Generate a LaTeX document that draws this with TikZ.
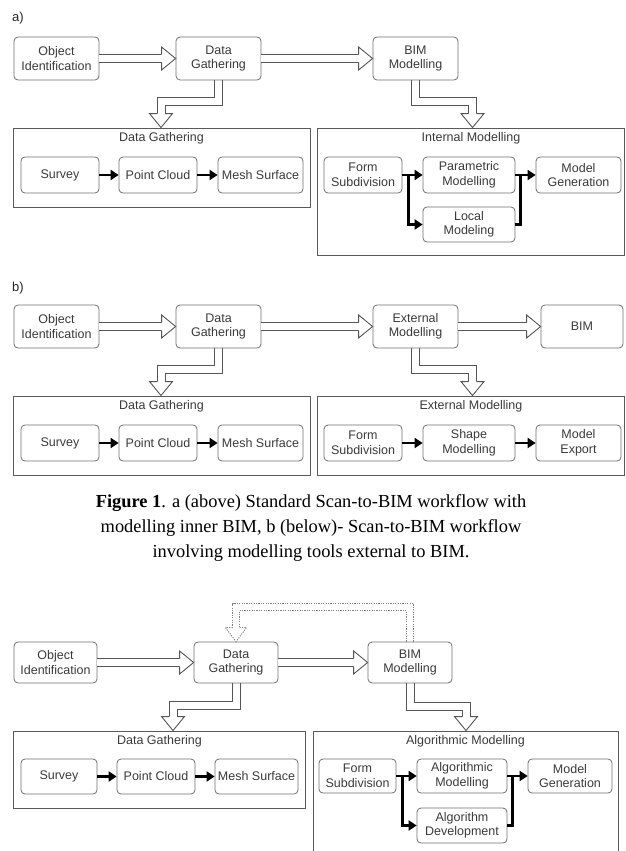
\documentclass[tikz,border=0pt]{standalone}
\usepackage{fontspec}
\setmainfont{Liberation Sans}
\newfontfamily\capfont{Liberation Serif}
\usetikzlibrary{arrows.meta,calc}

\definecolor{boxline}{HTML}{6E6E6E}
\definecolor{contline}{HTML}{5A5A5A}
\definecolor{arrline}{HTML}{555555}
\definecolor{txt}{HTML}{3A3A3A}

\tikzset{
  box/.style={draw=boxline, rounded corners=4pt, line width=0.8pt, text=txt,
    font=\fontsize{12.5}{14.5}\selectfont, align=center, inner sep=1pt},
  cont/.style={draw=contline, line width=0.9pt, inner sep=0pt},
  ctitle/.style={text=txt, font=\fontsize{12.5}{14.5}\selectfont, inner sep=0pt},
  partlabel/.style={text=black!85, font=\fontsize{13}{15}\selectfont, inner sep=0pt, anchor=west},
  hollow/.style={draw=arrline, line width=0.9pt, double=white, double distance=7.1pt, line join=miter},
  hline/.style={draw=arrline, line width=0.9pt, line join=miter},
  dline/.style={draw=arrline!75, line width=0.9pt, line join=miter, dash pattern=on 1.2pt off 1.2pt},
  blk/.style={draw=black, line width=2.4pt, line join=miter, -{Triangle[length=8pt,width=10pt]}},
  blkline/.style={draw=black, line width=2.4pt, line join=miter},
  hhead/.pic={
    \fill[white] (-14pt,4pt) -- (-14pt,11.5pt) -- (0,0) -- (-14pt,-11.5pt) -- (-14pt,-4pt) -- cycle;
    \draw[arrline, line width=0.9pt, line join=miter] (-14pt,4pt) -- (-14pt,11.5pt) -- (0,0) -- (-14pt,-11.5pt) -- (-14pt,-4pt);
  },
  dhead/.pic={
    \fill[white] (-14pt,3.5pt) -- (-14pt,10.5pt) -- (0,0) -- (-14pt,-10.5pt) -- (-14pt,-3.5pt) -- cycle;
    \draw[dline] (-14pt,3.5pt) -- (-14pt,10.5pt) -- (0,0) -- (-14pt,-10.5pt) -- (-14pt,-3.5pt);
  }
}

\begin{document}
\begin{tikzpicture}[x=1pt,y=-1pt]
\useasboundingbox (0,0) rectangle (625,851);

% ---------------- a) standard workflow ----------------
\node[partlabel] (la) at (12,18) {a)};
\node[box, minimum width=85, minimum height=43] (oiA) at (56.5,58.5) {Object\\Identification};
\node[box, minimum width=85, minimum height=43] (dgA) at (218.5,58.5) {Data\\Gathering};
\node[box, minimum width=85, minimum height=43] (bmA) at (415.5,58.5) {BIM\\Modelling};

\node[cont, minimum width=297, minimum height=79] (dgcA) at (161.5,167.5) {};
\node[ctitle] (dgtA) at (161.5,138) {Data Gathering};
\node[cont, minimum width=307, minimum height=127] (imcA) at (470.5,191.5) {};
\node[ctitle] (imtA) at (471,138) {Internal Modelling};

\node[box, minimum width=78, minimum height=36] (svA) at (60,175) {Survey};
\node[box, minimum width=78, minimum height=36] (pcA) at (158,175) {Point Cloud};
\node[box, minimum width=85, minimum height=36] (msA) at (260.5,175) {Mesh Surface};

\node[box, minimum width=78, minimum height=36] (fsA) at (363,175) {Form\\Subdivision};
\node[box, minimum width=92, minimum height=36] (pmA) at (469,175) {Parametric\\Modelling};
\node[box, minimum width=92, minimum height=35] (lmA) at (469,224.5) {Local\\Modeling};
\node[box, minimum width=85, minimum height=36] (mgA) at (578.5,175) {Model\\Generation};

% hollow flow arrows
\draw[hollow] (oiA.east) -- ($(dgA.west)+(-14,0)$);
\pic at (dgA.west) {hhead};
\draw[hollow] (dgA.east) -- ($(bmA.west)+(-14,0)$);
\pic at (bmA.west) {hhead};
% elbow arrows down into the containers (drawn as two edges)
\draw[hline] ($(dgA.south)+(-4,0)$) |- (157,97) -- (157,114);
\draw[hline] ($(dgA.south)+(4,0)$) |- (165,105) -- (165,114);
\pic[rotate=-90] at (161,0 |- dgcA.north) {hhead};
\draw[hline] ($(bmA.south)+(-4,0)$) |- (468.5,105) -- (468.5,114);
\draw[hline] ($(bmA.south)+(4,0)$) |- (476.5,97) -- (476.5,114);
\pic[rotate=-90] at (472.5,0 |- imcA.north) {hhead};

% inner process arrows
\draw[blk] (svA) -- (pcA);
\draw[blk] (pcA) -- (msA);
\draw[blkline] (fsA.east) -- ++(6,0);
\draw[blk] ($(fsA.east)+(5,0)$) -- (pmA.west);
\draw[blk] ($(fsA.east)+(6,0)$) |- (lmA.west);
\draw[blkline] (pmA.east) -- ++(6,0);
\draw[blk] (lmA.east) -| ($(pmA.east)+(5,0)$) -- (mgA.west);

% ---------------- b) external modelling workflow ----------------
\node[partlabel] (lb) at (12,288) {b)};
\node[box, minimum width=85, minimum height=43] (oiB) at (56.5,326.5) {Object\\Identification};
\node[box, minimum width=85, minimum height=43] (dgB) at (218.5,326.5) {Data\\Gathering};
\node[box, minimum width=85, minimum height=43] (emB) at (415.5,326.5) {External\\Modelling};
\node[box, minimum width=82, minimum height=43] (biB) at (582,326.5) {BIM};

\node[cont, minimum width=297, minimum height=79] (dgcB) at (161.5,435.5) {};
\node[ctitle] (dgtB) at (161.5,406) {Data Gathering};
\node[cont, minimum width=307, minimum height=79] (emcB) at (470.5,435.5) {};
\node[ctitle] (emtB) at (471,406) {External Modelling};

\node[box, minimum width=78, minimum height=36] (svB) at (60,443) {Survey};
\node[box, minimum width=78, minimum height=36] (pcB) at (158,443) {Point Cloud};
\node[box, minimum width=85, minimum height=36] (msB) at (260.5,443) {Mesh Surface};

\node[box, minimum width=78, minimum height=36] (fsB) at (363,443) {Form\\Subdivision};
\node[box, minimum width=92, minimum height=36] (smB) at (469,443) {Shape\\Modelling};
\node[box, minimum width=85, minimum height=36] (meB) at (578.5,443) {Model\\Export};

\draw[hollow] (oiB.east) -- ($(dgB.west)+(-14,0)$);
\pic at (dgB.west) {hhead};
\draw[hollow] (dgB.east) -- ($(emB.west)+(-14,0)$);
\pic at (emB.west) {hhead};
\draw[hollow] (emB.east) -- ($(biB.west)+(-14,0)$);
\pic at (biB.west) {hhead};
\draw[hline] ($(dgB.south)+(-4,0)$) |- (157,365) -- (157,382);
\draw[hline] ($(dgB.south)+(4,0)$) |- (165,373) -- (165,382);
\pic[rotate=-90] at (161,0 |- dgcB.north) {hhead};
\draw[hline] ($(emB.south)+(-4,0)$) |- (468.5,373) -- (468.5,382);
\draw[hline] ($(emB.south)+(4,0)$) |- (476.5,365) -- (476.5,382);
\pic[rotate=-90] at (472.5,0 |- emcB.north) {hhead};

\draw[blk] (svB) -- (pcB);
\draw[blk] (pcB) -- (msB);
\draw[blk] (fsB) -- (smB);
\draw[blk] (smB) -- (meB);

% ---------------- caption ----------------
\node[align=center, inner sep=0pt, text=black, font=\capfont\fontsize{18.4}{24.6}\selectfont] (cap) at (311,528)
  {\textbf{Figure 1}. a (above) Standard Scan-to-BIM workflow with\\
   modelling inner BIM, b (below)- Scan-to-BIM workflow\\
   involving modelling tools external to BIM.};

% ---------------- algorithmic modelling workflow ----------------
\node[box, minimum width=83, minimum height=41] (oiC) at (55.5,662.5) {Object\\Identification};
\node[box, minimum width=84, minimum height=41] (dgC) at (236,662.5) {Data\\Gathering};
\node[box, minimum width=84, minimum height=41] (bmC) at (410,662.5) {BIM\\Modelling};

\node[cont, minimum width=292, minimum height=77] (dgcC) at (159,769.5) {};
\node[ctitle] (dgtC) at (159.5,741) {Data Gathering};
\node[cont, minimum width=305, minimum height=149] (amcC) at (465.5,805.5) {};
\node[ctitle] (amtC) at (465.5,741) {Algorithmic Modelling};

\node[box, minimum width=76, minimum height=35] (svC) at (59,776.5) {Survey};
\node[box, minimum width=78, minimum height=35] (pcC) at (156,776.5) {Point Cloud};
\node[box, minimum width=83, minimum height=35] (msC) at (256.5,776.5) {Mesh Surface};

\node[box, minimum width=77, minimum height=34] (fsC) at (357.5,776) {Form\\Subdivision};
\node[box, minimum width=90, minimum height=34] (amC) at (462,776) {Algorithmic\\Modelling};
\node[box, minimum width=90, minimum height=35] (adC) at (462,825.5) {Algorithm\\Development};
\node[box, minimum width=84, minimum height=34] (mgC) at (570,776) {Model\\Generation};

\draw[hollow] (oiC.east) -- ($(dgC.west)+(-14,0)$);
\pic at (dgC.west) {hhead};
\draw[hollow] (dgC.east) -- ($(bmC.west)+(-14,0)$);
\pic at (bmC.west) {hhead};
\draw[hline] ($(dgC.south)+(-4,0)$) |- (169,701) -- (169,717);
\draw[hline] ($(dgC.south)+(4,0)$) |- (177,709) -- (177,717);
\pic[rotate=-90] at (173,0 |- dgcC.north) {hhead};
\draw[hline] ($(bmC.south)+(-4,0)$) |- (462,710) -- (462,717);
\draw[hline] ($(bmC.south)+(4,0)$) |- (470,702) -- (470,717);
\pic[rotate=-90] at (466,0 |- amcC.north) {hhead};

% dotted feedback from BIM modelling back to data gathering
\draw[dline] ($(bmC.north)+(3.5,0)$) |- (232.5,603.5) -- (232.5,628);
\draw[dline] ($(bmC.north)+(-3.5,0)$) |- (239.5,610.5) -- (239.5,628);
\pic[rotate=-90] at (dgC.north) {dhead};

\draw[blk] (svC) -- (pcC);
\draw[blk] (pcC) -- (msC);
\draw[blkline] (fsC.east) -- ++(6,0);
\draw[blk] ($(fsC.east)+(5,0)$) -- (amC.west);
\draw[blk] ($(fsC.east)+(6,0)$) |- (adC.west);
\draw[blkline] (amC.east) -- ++(6,0);
\draw[blk] (adC.east) -| ($(amC.east)+(5,0)$) -- (mgC.west);
\end{tikzpicture}
\end{document}
